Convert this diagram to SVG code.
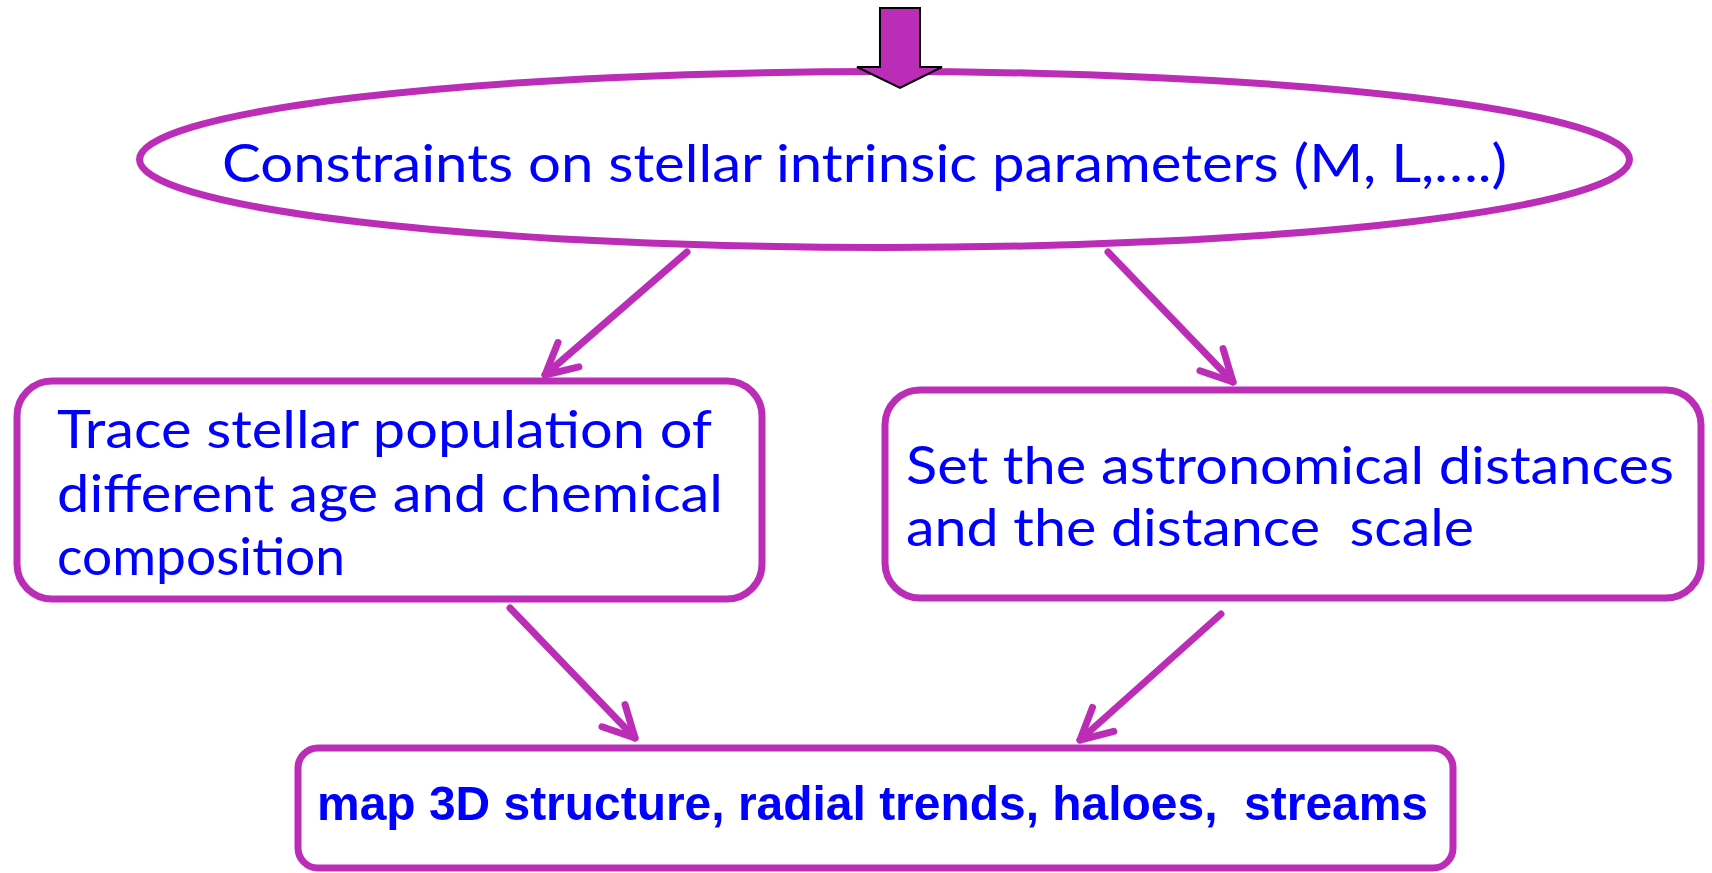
<svg xmlns="http://www.w3.org/2000/svg" width="1712" height="873" viewBox="0 0 1712 873">
  <style>
    .shape { fill: #ffffff; stroke: #BB2DB7; stroke-width: 7; }
    .conn { fill: none; stroke: #BB2DB7; stroke-width: 7; stroke-linecap: round; stroke-linejoin: round; }
    .hand { font-family: "Comic Sans MS", "Lato", "DejaVu Sans", sans-serif; font-size: 53px; fill: #0000FF; white-space: pre; }
    .bold { font-family: "Liberation Sans", Arial, sans-serif; font-weight: bold; font-size: 49px; fill: #0000FF; white-space: pre; }
  </style>
  <defs>
    <marker id="head" markerUnits="userSpaceOnUse" markerWidth="80" markerHeight="80" viewBox="-40 -40 80 80" refX="0" refY="0" orient="auto" overflow="visible">
      <path d="M -31 -16 L 0 0 L -31 16" fill="none" stroke="#BB2DB7" stroke-width="7" stroke-linecap="round" stroke-linejoin="round"/>
    </marker>
  </defs>
  <rect width="1712" height="873" fill="#ffffff"/>

  <g id="node-constraints">
    <ellipse class="shape" cx="884.5" cy="159.5" rx="745" ry="88"/>
    <text class="hand" x="222" y="182" font-size="55" textLength="1285" lengthAdjust="spacingAndGlyphs">Constraints on stellar intrinsic parameters (M, L,….)</text>
  </g>

  <g id="node-input-arrow">
    <polygon points="880,8 920,8 920,67 942,67 900,88 857,67 880,67" fill="#BB2DB7" stroke="#000000" stroke-width="2" stroke-linejoin="miter"/>
  </g>

  <g id="node-trace">
    <rect class="shape" x="17" y="381" width="745" height="218" rx="35" ry="35"/>
    <text class="hand" x="57" y="448" textLength="655" lengthAdjust="spacingAndGlyphs">Trace stellar population of</text>
    <text class="hand" x="57" y="512" textLength="666" lengthAdjust="spacingAndGlyphs">different age and chemical</text>
    <text class="hand" x="57" y="575" textLength="288" lengthAdjust="spacingAndGlyphs">composition</text>
  </g>

  <g id="node-distances">
    <rect class="shape" x="885" y="390" width="816" height="208" rx="35" ry="35"/>
    <text class="hand" x="906" y="484" textLength="768" lengthAdjust="spacingAndGlyphs">Set the astronomical distances</text>
    <text class="hand" x="906" y="546" textLength="568" lengthAdjust="spacingAndGlyphs">and the distance  scale</text>
  </g>

  <g id="node-map">
    <rect class="shape" x="298" y="748" width="1155" height="120" rx="20" ry="20"/>
    <text class="bold" x="317" y="820" textLength="1111" lengthAdjust="spacingAndGlyphs">map 3D structure, radial trends, haloes,  streams</text>
  </g>

  <g id="connectors">
    <line class="conn" x1="687" y1="252" x2="545" y2="375" marker-end="url(#head)"/>
    <line class="conn" x1="1108" y1="252" x2="1233" y2="382" marker-end="url(#head)"/>
    <line class="conn" x1="510" y1="608" x2="635" y2="738" marker-end="url(#head)"/>
    <line class="conn" x1="1221" y1="614" x2="1080" y2="740" marker-end="url(#head)"/>
  </g>
</svg>
